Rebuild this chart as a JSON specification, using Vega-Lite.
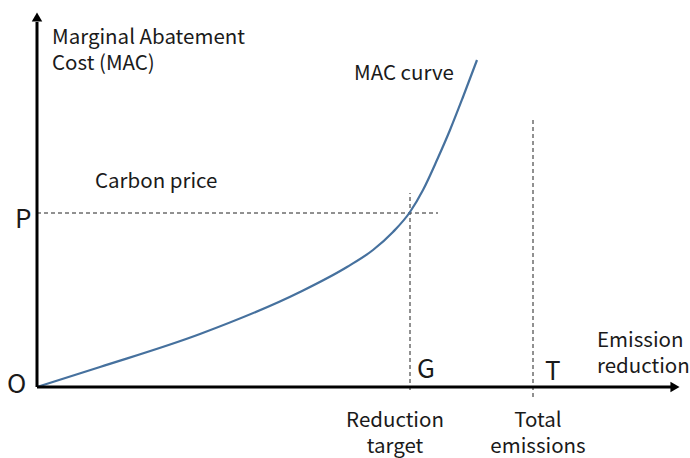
{
  "$schema": "https://vega.github.io/schema/vega-lite/v6.json",
  "width": 690,
  "height": 458,
  "padding": 0,
  "autosize": {"type": "fit", "contains": "padding"},
  "background": "white",
  "config": {"view": {"stroke": null}, "text": {"font": "Noto Sans CJK JP", "color": "#1a1a1a"}},
  "datasets": {
    "curve": [
      {"x": 0, "y": 0}, {"x": 63, "y": 20}, {"x": 163, "y": 53}, {"x": 263, "y": 95},
      {"x": 310, "y": 120}, {"x": 336, "y": 137}, {"x": 356, "y": 155},
      {"x": 373, "y": 175}, {"x": 386, "y": 197}, {"x": 400, "y": 227}, {"x": 413, "y": 257},
      {"x": 426, "y": 290}, {"x": 440, "y": 327}
    ],
    "hdash": [{"x": 0, "x2": 401, "y": 174}],
    "vdash": [{"x": 373, "y": -3, "y2": 194}, {"x": 496, "y": -10, "y2": 267}],
    "axes": [{"x": 0, "y": 0, "x2": 636, "y2": 0}, {"x": 0, "y": 0, "x2": 0, "y2": 365}],
    "arrowUp": [{"x": 0, "y": 370}],
    "arrowRight": [{"x": 638, "y": 0}],
    "labelsLeft": [
      {"x": 15, "y": 343, "t": ["Marginal Abatement", "Cost (MAC)"]},
      {"x": 317, "y": 307, "t": ["MAC curve"]},
      {"x": 58, "y": 199, "t": ["Carbon price"]},
      {"x": 560, "y": 40, "t": ["Emission", "reduction"]}
    ],
    "labelsCenter": [
      {"x": 358, "y": -40, "t": ["Reduction", "target"]},
      {"x": 501, "y": -40, "t": ["Total", "emissions"]}
    ],
    "letters": [
      {"x": -22, "y": 159, "t": "P"},
      {"x": -30, "y": -6, "t": "O"},
      {"x": 380, "y": 9, "t": "G"},
      {"x": 508, "y": 7, "t": "T"}
    ]
  },
  "encoding": {
    "x": {"field": "x", "type": "quantitative", "scale": {"domain": [-37, 653], "nice": false, "zero": false}, "axis": null},
    "y": {"field": "y", "type": "quantitative", "scale": {"domain": [-71, 387], "nice": false, "zero": false}, "axis": null}
  },
  "layer": [
    {"data": {"name": "hdash"}, "mark": {"type": "rule", "color": "#222", "strokeWidth": 1, "strokeDash": [4, 3]},
     "encoding": {"x2": {"field": "x2"}}},
    {"data": {"name": "vdash"}, "mark": {"type": "rule", "color": "#222", "strokeWidth": 1, "strokeDash": [4, 3]},
     "encoding": {"y2": {"field": "y2"}}},
    {"data": {"name": "curve"}, "mark": {"type": "line", "color": "#46719e", "strokeWidth": 2.2, "interpolate": "monotone"}},
    {"data": {"name": "axes"}, "mark": {"type": "rule", "color": "black", "strokeWidth": 3},
     "encoding": {"x2": {"field": "x2"}, "y2": {"field": "y2"}}},
    {"data": {"name": "arrowUp"}, "mark": {"type": "point", "shape": "triangle-up", "filled": true, "color": "black", "size": 110, "opacity": 1}},
    {"data": {"name": "arrowRight"}, "mark": {"type": "point", "shape": "triangle-right", "filled": true, "color": "black", "size": 110, "opacity": 1}},
    {"data": {"name": "labelsLeft"}, "mark": {"type": "text", "align": "left", "baseline": "alphabetic", "fontSize": 20.5, "lineHeight": 26},
     "encoding": {"text": {"field": "t"}}},
    {"data": {"name": "labelsCenter"}, "mark": {"type": "text", "align": "center", "baseline": "alphabetic", "fontSize": 20.5, "lineHeight": 26},
     "encoding": {"text": {"field": "t"}}},
    {"data": {"name": "letters"}, "mark": {"type": "text", "align": "left", "baseline": "alphabetic", "fontSize": 26},
     "encoding": {"text": {"field": "t"}}}
  ]
}
